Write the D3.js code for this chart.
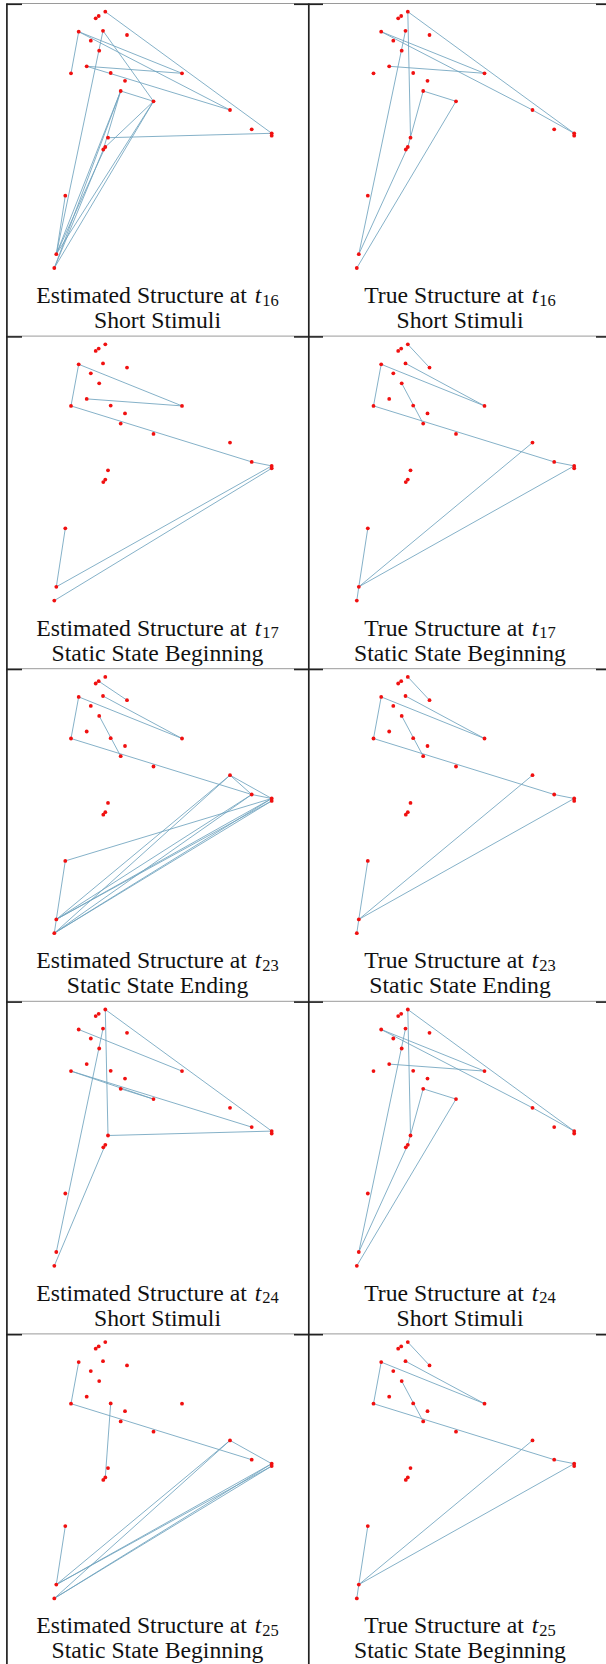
<!DOCTYPE html>
<html><head><meta charset="utf-8">
<script src="https://cdn.jsdelivr.net/npm/d3@7"></script>
<style>html,body{margin:0;padding:0;background:#fff;}svg{display:block;}</style>
</head><body>
<script>
// ---- data ----
const nodeIds = ["A","B","C","D","E","F","G","H","I","J","K","L","M","N","O","P","Q","R1","R2","S","T1","T2","U","V","W"];
const nodeX = [105.3,98.7,95.7,78.7,103,127,90.8,99.2,86.7,71,110.7,182,125,120.7,153.5,230,251.7,271.7,271.7,108,105.3,103.3,65.3,56.3,54.3];
const nodeY = [8.2,12.5,14.8,28.2,27.3,31.5,37.2,47.2,62.8,69.8,69.5,69.8,77.3,87.5,97.8,106.5,125.8,129.8,132.2,134.2,143.5,146,192.2,250.7,264.5];

const timeSteps = ["16","17","23","24","25"];
const phases = ["Short Stimuli","Static State Beginning","Static State Ending","Short Stimuli","Static State Beginning"];

const estEdges16 = ["A-R1","D-J","D-L","D-P","I-L","I-P","E-O","E-V","N-O","S-R1","N-V","N-W","O-V","O-W","O-T1","N-T2","T1-V","T2-W","U-V"];
const trueEdges16 = ["A-R1","A-S","D-L","D-P","I-L","P-R1","E-V","N-O","N-T1","T1-V","O-W"];
const estEdges17 = ["D-L","D-J","I-L","J-Q","Q-R1","R1-V","R2-W","U-V"];
const trueEdges17 = ["A-F","E-L","D-L","D-J","H-N","J-Q","Q-R1","P-V","R1-V","U-V","V-W"];
const estEdges23 = ["B-F","E-L","D-L","D-J","H-N","J-Q","P-Q","P-R1","Q-R1","U-V","U-R1","V-W","V-P","W-P","V-Q","W-Q","V-R1","V-R2","W-R1","W-R2"];
const trueEdges23 = ["A-F","E-L","D-L","D-J","H-N","J-Q","Q-R1","P-V","R1-V","U-V","V-W"];
const estEdges24 = ["A-R1","A-S","E-V","D-L","J-Q","J-O","N-O","S-R1","T1-W"];
const trueEdges24 = ["A-R1","A-S","D-L","D-P","I-L","P-R1","E-V","N-O","N-T1","T1-V","O-W"];
const estEdges25 = ["D-J","J-Q","K-T1","P-R1","U-V","V-P","W-P","V-R1","V-R2","W-R1","W-R2"];
const trueEdges25 = ["A-F","E-L","D-L","D-J","H-N","J-Q","Q-R1","P-V","R1-V","U-V","V-W"];

const estEdges = [estEdges16, estEdges17, estEdges23, estEdges24, estEdges25];
const trueEdges = [trueEdges16, trueEdges17, trueEdges23, trueEdges24, trueEdges25];

// ---- drawing ----
const W = 606, H = 1664;
const rowPitch = 332.6, top0 = 3.5;
const colOffset = [0, 302.5];
const colCenter = [157.5, 460];
const FONT = "'Liberation Serif', 'Times New Roman', serif";

const svg = d3.select("body").append("svg").attr("width", W).attr("height", H);
svg.append("rect").attr("width", W).attr("height", H).attr("fill", "#fff");

const idx = {};
nodeIds.forEach((id, i) => idx[id] = i);
const nodes = nodeIds.map((id, i) => ({id, x: nodeX[i], y: nodeY[i]}));

// grid lines
const gridG = svg.append("g");
for (let r = 0; r <= 5; r++) {
  const y = top0 + r * rowPitch;
  gridG.append("line").attr("x1", 7).attr("x2", W).attr("y1", y).attr("y2", y)
    .attr("stroke", "#9a9a9a").attr("stroke-width", 1);
  [[6, 22], [294, 323], [596, 606]].forEach(([a, b]) => {
    gridG.append("line").attr("x1", a).attr("x2", b).attr("y1", y + 0.8).attr("y2", y + 0.8)
      .attr("stroke", "#222").attr("stroke-width", 1.6);
  });
}
[6.9, 308.8].forEach(x => {
  gridG.append("line").attr("x1", x).attr("x2", x).attr("y1", top0).attr("y2", H)
    .attr("stroke", "#222").attr("stroke-width", 1.7);
});

function drawPanel(row, col, edges, label) {
  const ox = colOffset[col], oy = top0 + row * rowPitch;
  const xs = d3.scaleLinear().domain([0, 300]).range([ox, ox + 300]);
  const ys = d3.scaleLinear().domain([0, 300]).range([oy, oy + 300]);
  const g = svg.append("g");
  g.selectAll("line.edge").data(edges.map(e => e.split("-")))
    .join("line").attr("class", "edge")
    .attr("x1", d => xs(nodes[idx[d[0]]].x)).attr("y1", d => ys(nodes[idx[d[0]]].y))
    .attr("x2", d => xs(nodes[idx[d[1]]].x)).attr("y2", d => ys(nodes[idx[d[1]]].y))
    .attr("stroke", "#6fa3be").attr("stroke-width", 0.85);
  g.selectAll("circle").data(nodes).join("circle")
    .attr("cx", d => xs(d.x)).attr("cy", d => ys(d.y)).attr("r", 1.9)
    .attr("fill", "#f01010");
  const cx = colCenter[col];
  const t1 = g.append("text").attr("x", cx).attr("y", oy + 299.5)
    .attr("text-anchor", "middle")
    .attr("font-family", FONT)
    .attr("font-size", 23.7).attr("fill", "#111");
  t1.append("tspan").text(label + " Structure at ");
  t1.append("tspan").attr("dx", 2).attr("font-style", "italic").text("t");
  t1.append("tspan").attr("font-size", 16.5).attr("dx", 1).attr("dy", 2.5).text(timeSteps[row]);
  g.append("text").attr("x", cx).attr("y", oy + 324.5)
    .attr("text-anchor", "middle")
    .attr("font-family", FONT)
    .attr("font-size", 23.7).attr("fill", "#111")
    .text(phases[row]);
}

for (let r = 0; r < 5; r++) {
  drawPanel(r, 0, estEdges[r], "Estimated");
  drawPanel(r, 1, trueEdges[r], "True");
}
</script>
</body></html>
